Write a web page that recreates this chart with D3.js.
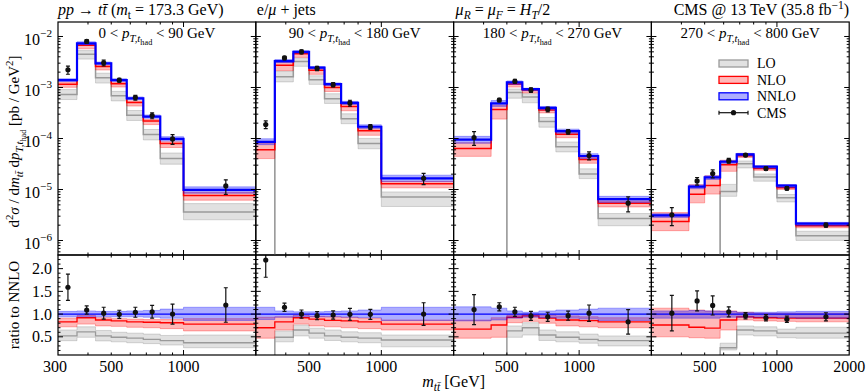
<!DOCTYPE html>
<html>
<head>
<meta charset="utf-8">
<script src="https://cdn.jsdelivr.net/npm/d3@7"></script>
<style>
  body { margin: 0; background: #fff; }
  text { font-family: "Liberation Serif", "DejaVu Serif", serif; fill: #000; }
</style>
</head>
<body>
<svg id="chart" width="866" height="392"></svg>
<script>
// m_tt bin edges per pT(t_had) slice
const mttEdges = [
  [300, 360, 430, 500, 580, 680, 800, 1000, 2000],
  [300, 360, 430, 500, 580, 680, 800, 1000, 2000],
  [300, 430, 500, 580, 680, 800, 1000, 1200, 2000],
  [300, 430, 500, 580, 680, 800, 1000, 1200, 2000]
];
const ptSlices = [[0, 90], [90, 180], [180, 270], [270, 800]];

// NNLO central value [pb/GeV^2]
const nnlo = [
  [1.40e-3, 7.35e-3, 2.98e-3, 1.40e-3, 6.1e-4, 2.68e-4, 9.8e-5, 9.8e-6],
  [8.6e-5, 3.3e-3, 5.0e-3, 2.45e-3, 1.16e-3, 5.0e-4, 1.70e-4, 1.66e-5],
  [9.5e-5, 4.9e-4, 1.26e-3, 9.3e-4, 3.97e-4, 1.40e-4, 4.54e-5, 6.5e-6],
  [3.12e-6, 1.14e-5, 1.73e-5, 3.5e-5, 4.9e-5, 2.8e-5, 1.19e-5, 2.14e-6]
];
// everything below is a ratio to NNLO central
const nnloLo = [
  [0.94, 0.94, 0.94, 0.94, 0.94, 0.93, 0.91, 0.86],
  [0.88, 0.93, 0.94, 0.94, 0.94, 0.93, 0.92, 0.86],
  [0.85, 0.87, 0.91, 0.93, 0.92, 0.91, 0.89, 0.86],
  [0.91, 0.91, 0.91, 0.93, 0.93, 0.93, 0.92, 0.91]
];
const nnloHi = [
  [1.06, 1.07, 1.06, 1.06, 1.07, 1.08, 1.11, 1.15],
  [1.15, 1.07, 1.05, 1.05, 1.06, 1.07, 1.09, 1.15],
  [1.16, 1.13, 1.07, 1.04, 1.07, 1.09, 1.11, 1.13],
  [1.07, 1.08, 1.07, 1.06, 1.04, 1.04, 1.05, 1.06]
];
const nloC = [
  [0.83, 0.92, 0.87, 0.85, 0.83, 0.82, 0.81, 0.78],
  [0.70, 0.83, 0.92, 0.89, 0.86, 0.85, 0.83, 0.78],
  [0.67, 0.76, 0.93, 0.96, 0.91, 0.87, 0.855, 0.83],
  [0.76, 0.71, 0.69, 0.87, 0.94, 0.92, 0.91, 0.91]
];
const nloLo = [
  [0.72, 0.78, 0.74, 0.73, 0.71, 0.70, 0.68, 0.63],
  [0.47, 0.65, 0.78, 0.74, 0.72, 0.70, 0.68, 0.65],
  [0.47, 0.49, 0.81, 0.84, 0.80, 0.74, 0.72, 0.70],
  [0.50, 0.48, 0.47, 0.65, 0.87, 0.85, 0.84, 0.83]
];
const nloHi = [
  [0.91, 0.97, 0.92, 0.90, 0.89, 0.88, 0.88, 0.90],
  [0.93, 0.94, 0.98, 0.95, 0.94, 0.93, 0.91, 0.87],
  [0.87, 0.92, 0.98, 1.00, 0.98, 0.96, 0.94, 0.92],
  [1.13, 1.09, 1.07, 1.07, 1.04, 1.02, 1.02, 1.02]
];
const loC = [
  [0.52, 0.61, 0.52, 0.49, 0.47, 0.445, 0.415, 0.37],
  [0, 0.49, 0.65, 0.58, 0.52, 0.49, 0.47, 0.43],
  [0, 0, 0.63, 0.70, 0.54, 0.49, 0.445, 0.415],
  [0, 0, 0, 0.26, 0.65, 0.63, 0.58, 0.58]
];
const loLo = [
  [0.415, 0.49, 0.41, 0.39, 0.37, 0.35, 0.32, 0.26],
  [0, 0.39, 0.52, 0.47, 0.42, 0.39, 0.37, 0.28],
  [0, 0, 0.49, 0.54, 0.42, 0.39, 0.36, 0.30],
  [0, 0, 0, 0.21, 0.54, 0.52, 0.48, 0.47]
];
const loHi = [
  [0.65, 0.72, 0.64, 0.60, 0.58, 0.56, 0.53, 0.54],
  [0, 0.63, 0.76, 0.69, 0.65, 0.61, 0.59, 0.54],
  [0, 0, 0.74, 0.81, 0.65, 0.61, 0.56, 0.52],
  [0, 0, 0, 0.36, 0.74, 0.72, 0.67, 0.71]
];
const cmsR = [
  [1.59, 1.09, 1.02, 0.995, 1.04, 1.05, 1.0, 1.2],
  [2.19, 1.15, 1.0, 0.965, 0.98, 0.995, 0.995, 1.0],
  [1.10, 1.16, 1.05, 0.96, 0.94, 0.965, 1.02, 0.83],
  [1.02, 1.29, 1.19, 1.05, 0.965, 0.92, 0.885, 0.94]
];
const cmsErr = [
  [0.29, 0.09, 0.13, 0.09, 0.11, 0.14, 0.22, 0.38],
  [0.38, 0.09, 0.09, 0.09, 0.09, 0.13, 0.11, 0.25],
  [0.33, 0.09, 0.10, 0.10, 0.10, 0.10, 0.18, 0.27],
  [0.39, 0.22, 0.21, 0.11, 0.07, 0.07, 0.07, 0.09]
];
const yTickExp = [-2, -3, -4, -5, -6];
const rTicks = [0.5, 1.0, 1.5, 2.0];
const xTickLabels = [300, 500, 1000, 2000];
const legendItems = ["LO", "NLO", "NNLO", "CMS"];

const X0 = 58, W = 197.8, TOP = 22, HU = 233, HR = 100;
const svg = d3.select("#chart");
const defs = svg.append("defs");

const x = d3.scaleLog().domain([300, 2000]).range([0, W]);
const yU = d3.scaleLog().domain([Math.pow(10, -6.284), Math.pow(10, -1.716)]).range([HU, 0]);
const yR = d3.scaleLinear().domain([0.1, 2.3]).range([HR, 0]);
const yUp = v => v > 0 ? yU(v) : HU + 20;

const col = {
  lo: { line: "#9a9a9a", fill: "#808080", fo: 0.24 },
  nlo: { line: "#ff0000", fill: "#ff0000", fo: 0.28 },
  nnlo: { line: "#0000ff", fill: "#0000ff", fo: 0.32 }
};

// rich text helper: parts = [text, {it, fs, sh}]
function rich(sel, parts, size) {
  let cur = 0;
  parts.forEach(([s, o]) => {
    o = o || {};
    const off = (o.sh || 0) * size;
    const t = sel.append("tspan").text(s).attr("dy", off - cur)
      .style("font-size", (o.fs || 1) * size + "px");
    if (o.it) t.style("font-style", "italic");
    cur = off;
  });
}
const SUB = { fs: 0.72, sh: 0.25 }, SUBI = { fs: 0.72, sh: 0.25, it: true };
const SUBSUB = { fs: 0.55, sh: 0.45 }, SUP = { fs: 0.72, sh: -0.4 };
const I = { it: true };

function steps(edges, vals) {
  return edges.map((e, i) => [e, vals[Math.min(i, vals.length - 1)]]);
}
function stepsBand(edges, lo, hi) {
  return edges.map((e, i) => [e, lo[Math.min(i, lo.length - 1)], hi[Math.min(i, hi.length - 1)]]);
}

ptSlices.forEach((pt, p) => {
  const edges = mttEdges[p];
  const g = svg.append("g").attr("transform", `translate(${X0 + p * W},${TOP})`);
  const gr = g.append("g").attr("transform", `translate(0,${HU})`);

  defs.append("clipPath").attr("id", "cu" + p).append("rect").attr("width", W).attr("height", HU);
  defs.append("clipPath").attr("id", "cr" + p).append("rect").attr("width", W).attr("height", HR);

  const pu = g.append("g").attr("clip-path", `url(#cu${p})`);
  const pr = gr.append("g").attr("clip-path", `url(#cr${p})`);

  const abs = arr => arr[p].map((r, i) => r * nnlo[p][i]);
  const ones = nnlo[p].map(() => 1);

  const series = [
    { k: "lo", c: abs(loC), l: abs(loLo), h: abs(loHi), rc: loC[p], rl: loLo[p], rh: loHi[p], wu: 1.5 },
    { k: "nlo", c: abs(nloC), l: abs(nloLo), h: abs(nloHi), rc: nloC[p], rl: nloLo[p], rh: nloHi[p], wu: 1.5 },
    { k: "nnlo", c: nnlo[p], l: abs(nnloLo), h: abs(nnloHi), rc: ones, rl: nnloLo[p], rh: nnloHi[p], wu: 2.2 }
  ];

  series.forEach(s => {
    const c = col[s.k];
    // upper panel
    const areaU = d3.area().x(d => x(d[0])).y0(d => yUp(d[1])).y1(d => yUp(d[2])).curve(d3.curveStepAfter);
    const lineU = d3.line().x(d => x(d[0])).y(d => yUp(d[1])).curve(d3.curveStepAfter);
    pu.append("path").attr("d", areaU(stepsBand(edges, s.l, s.h)))
      .attr("fill", c.fill).attr("fill-opacity", c.fo);
    [s.l, s.h].forEach(b => pu.append("path").attr("d", lineU(steps(edges, b)))
      .attr("fill", "none").attr("stroke", c.fill).attr("stroke-opacity", 0.3).attr("stroke-width", 1));
    pu.append("path").attr("d", lineU(steps(edges, s.c)))
      .attr("fill", "none").attr("stroke", c.line).attr("stroke-width", s.wu);
    // ratio panel
    const areaR = d3.area().x(d => x(d[0])).y0(d => yR(d[1])).y1(d => yR(d[2])).curve(d3.curveStepAfter);
    const lineR = d3.line().x(d => x(d[0])).y(d => yR(d[1])).curve(d3.curveStepAfter);
    pr.append("path").attr("d", areaR(stepsBand(edges, s.rl, s.rh)))
      .attr("fill", c.fill).attr("fill-opacity", c.fo);
    [s.rl, s.rh].forEach(b => pr.append("path").attr("d", lineR(steps(edges, b)))
      .attr("fill", "none").attr("stroke", c.fill).attr("stroke-opacity", 0.3).attr("stroke-width", 1));
    pr.append("path").attr("d", lineR(steps(edges, s.rc)))
      .attr("fill", "none").attr("stroke", c.line).attr("stroke-width", 1.3);
  });

  // CMS data
  const pts = cmsR[p].map((r, i) => ({
    m: (edges[i] + edges[i + 1]) / 2, r, e: cmsErr[p][i], n: nnlo[p][i]
  }));
  [[pu, d => yU(d.r * d.n), d => yU((d.r + d.e) * d.n), d => yU((d.r - d.e) * d.n)],
   [pr, d => yR(d.r), d => yR(d.r + d.e), d => yR(d.r - d.e)]].forEach(([sel, yc, yt, yb]) => {
    const dg = sel.append("g");
    pts.forEach(d => {
      const cx = x(d.m);
      dg.append("line").attr("x1", cx).attr("x2", cx).attr("y1", yt(d)).attr("y2", yb(d))
        .attr("stroke", "#111").attr("stroke-width", 1.2);
      [yt(d), yb(d)].forEach(yy => dg.append("line").attr("x1", cx - 2).attr("x2", cx + 2)
        .attr("y1", yy).attr("y2", yy).attr("stroke", "#111").attr("stroke-width", 1.2));
      dg.append("circle").attr("cx", cx).attr("cy", yc(d)).attr("r", 2.6).attr("fill", "#111");
    });
  });

  // frames
  [[g, HU], [gr, HR]].forEach(([sel, h]) => sel.append("rect").attr("width", W).attr("height", h)
    .attr("fill", "none").attr("stroke", "#000").attr("stroke-width", 1.2));

  // ticks
  const tk = (sel, x1, y1, x2, y2) => sel.append("line").attr("x1", x1).attr("y1", y1)
    .attr("x2", x2).attr("y2", y2).attr("stroke", "#000").attr("stroke-width", 1);
  [[g, HU], [gr, HR]].forEach(([sel, h]) => {
    [400, 500, 600, 700, 800, 900, 1000].forEach(v => {
      const len = v === 1000 ? 5 : 2.5;
      tk(sel, x(v), 0, x(v), len);
      tk(sel, x(v), h, x(v), h - len);
    });
  });
  for (let e = -7; e <= -1; e++) {
    for (let k = 1; k <= 9; k++) {
      const v = k * Math.pow(10, e);
      const [d0, d1] = yU.domain();
      if (v < d0 || v > d1) continue;
      const len = k === 1 ? 5 : 2.5;
      tk(g, 0, yU(v), len, yU(v));
      tk(g, W, yU(v), W - len, yU(v));
    }
  }
  d3.range(2, 23).forEach(i => {
    const v = i / 10;
    const len = (i % 5 === 0) ? 5 : 2.5;
    tk(gr, 0, yR(v), len, yR(v));
    tk(gr, W, yR(v), W - len, yR(v));
  });

  // tick labels
  if (p === 0) {
    yTickExp.forEach(e => {
      const t = g.append("text").attr("x", -6).attr("y", yU(Math.pow(10, e)) + 8.5)
        .attr("text-anchor", "end");
      rich(t, [["10"], ["\u2212" + (-e), { fs: 0.7, sh: -0.48 }]], 16);
    });
    rTicks.forEach(v => gr.append("text").attr("x", -6).attr("y", yR(v) + 5.5)
      .attr("text-anchor", "end").style("font-size", "16px").text(v.toFixed(1)));
  }
  xTickLabels.forEach(v => {
    if (v === 300 && p !== 0) return;
    if (v === 2000 && p !== 3) return;
    gr.append("text").attr("x", x(v) - (v === 300 ? 3 : 0)).attr("y", HR + 17).attr("text-anchor", "middle")
      .style("font-size", "16px").text(v);
  });

  // slice label
  const sl = g.append("text").attr("x", W / 2).attr("y", 16).attr("text-anchor", "middle");
  rich(sl, [[pt[0] + " < "], ["p", I], ["T,t", SUBI], ["had", SUBSUB], [" < " + pt[1] + " GeV", { sh: 0 }]], 15);
});

// titles above the panels
const TF = 16;
const t1 = svg.append("text").attr("x", X0).attr("y", 15);
rich(t1, [["pp", I], [" \u2192 "], ["tt\u0304", I], [" ("], ["m", I], ["t", SUB], [" = 173.3 GeV)", { sh: 0 }]], TF);
const t2 = svg.append("text").attr("x", X0 + W + 1).attr("y", 15);
rich(t2, [["e/"], ["\u03bc", I], [" + jets"]], TF);
const t3 = svg.append("text").attr("x", X0 + 2 * W + 2).attr("y", 15);
rich(t3, [["\u03bc", I], ["R", SUBI], [" = ", { sh: 0 }], ["\u03bc", I], ["F", SUBI], [" = ", { sh: 0 }],
  ["H", I], ["T", SUBI], ["/2", { sh: 0 }]], TF);
const t4 = svg.append("text").attr("x", X0 + 4 * W).attr("y", 15).attr("text-anchor", "end");
rich(t4, [["CMS @ 13 TeV (35.8 fb"], ["\u22121", SUP], [")", { sh: 0 }]], TF);

// axis titles
const yl = svg.append("text").attr("transform", `translate(19,${TOP + HU / 2 + 3}) rotate(-90)`)
  .attr("text-anchor", "middle");
rich(yl, [["d"], ["2", SUP], ["\u03c3", I], [" / d"], ["m", I], ["tt\u0304", SUBI], [" d", { sh: 0 }],
  ["p", I], ["T,t", SUBI], ["had", SUBSUB], [" [pb / GeV", { sh: 0 }], ["2", SUP], ["]", { sh: 0 }]], 15);
svg.append("text").attr("transform", `translate(19,${TOP + HU + HR / 2}) rotate(-90)`)
  .attr("text-anchor", "middle").style("font-size", "15px").text("ratio to NNLO");
const xl = svg.append("text").attr("x", X0 + 2 * W).attr("y", 387).attr("text-anchor", "middle");
rich(xl, [["m", I], ["tt\u0304", SUBI], [" [GeV]", { sh: 0 }]], 16);

// legend
const lg = svg.append("g").attr("transform", "translate(719,63.5)");
legendItems.forEach((name, i) => {
  const yy = i * 16.4;
  if (name === "CMS") {
    lg.append("line").attr("x1", 0).attr("x2", 29).attr("y1", yy).attr("y2", yy).attr("stroke", "#111").attr("stroke-width", 1.2);
    [0, 29].forEach(xx => lg.append("line").attr("x1", xx).attr("x2", xx).attr("y1", yy - 2).attr("y2", yy + 2)
      .attr("stroke", "#111").attr("stroke-width", 1.2));
    lg.append("circle").attr("cx", 14.5).attr("cy", yy).attr("r", 2.6).attr("fill", "#111");
  } else {
    const c = col[["lo", "nlo", "nnlo"][i]];
    lg.append("rect").attr("x", 0).attr("y", yy - 3.5).attr("width", 29).attr("height", 7)
      .attr("fill", c.fill).attr("fill-opacity", c.fo).attr("stroke", c.line).attr("stroke-width", 1.3);
  }
  lg.append("text").attr("x", 38).attr("y", yy + 4.8).style("font-size", "14px").text(name);
});
</script>
</body>
</html>
